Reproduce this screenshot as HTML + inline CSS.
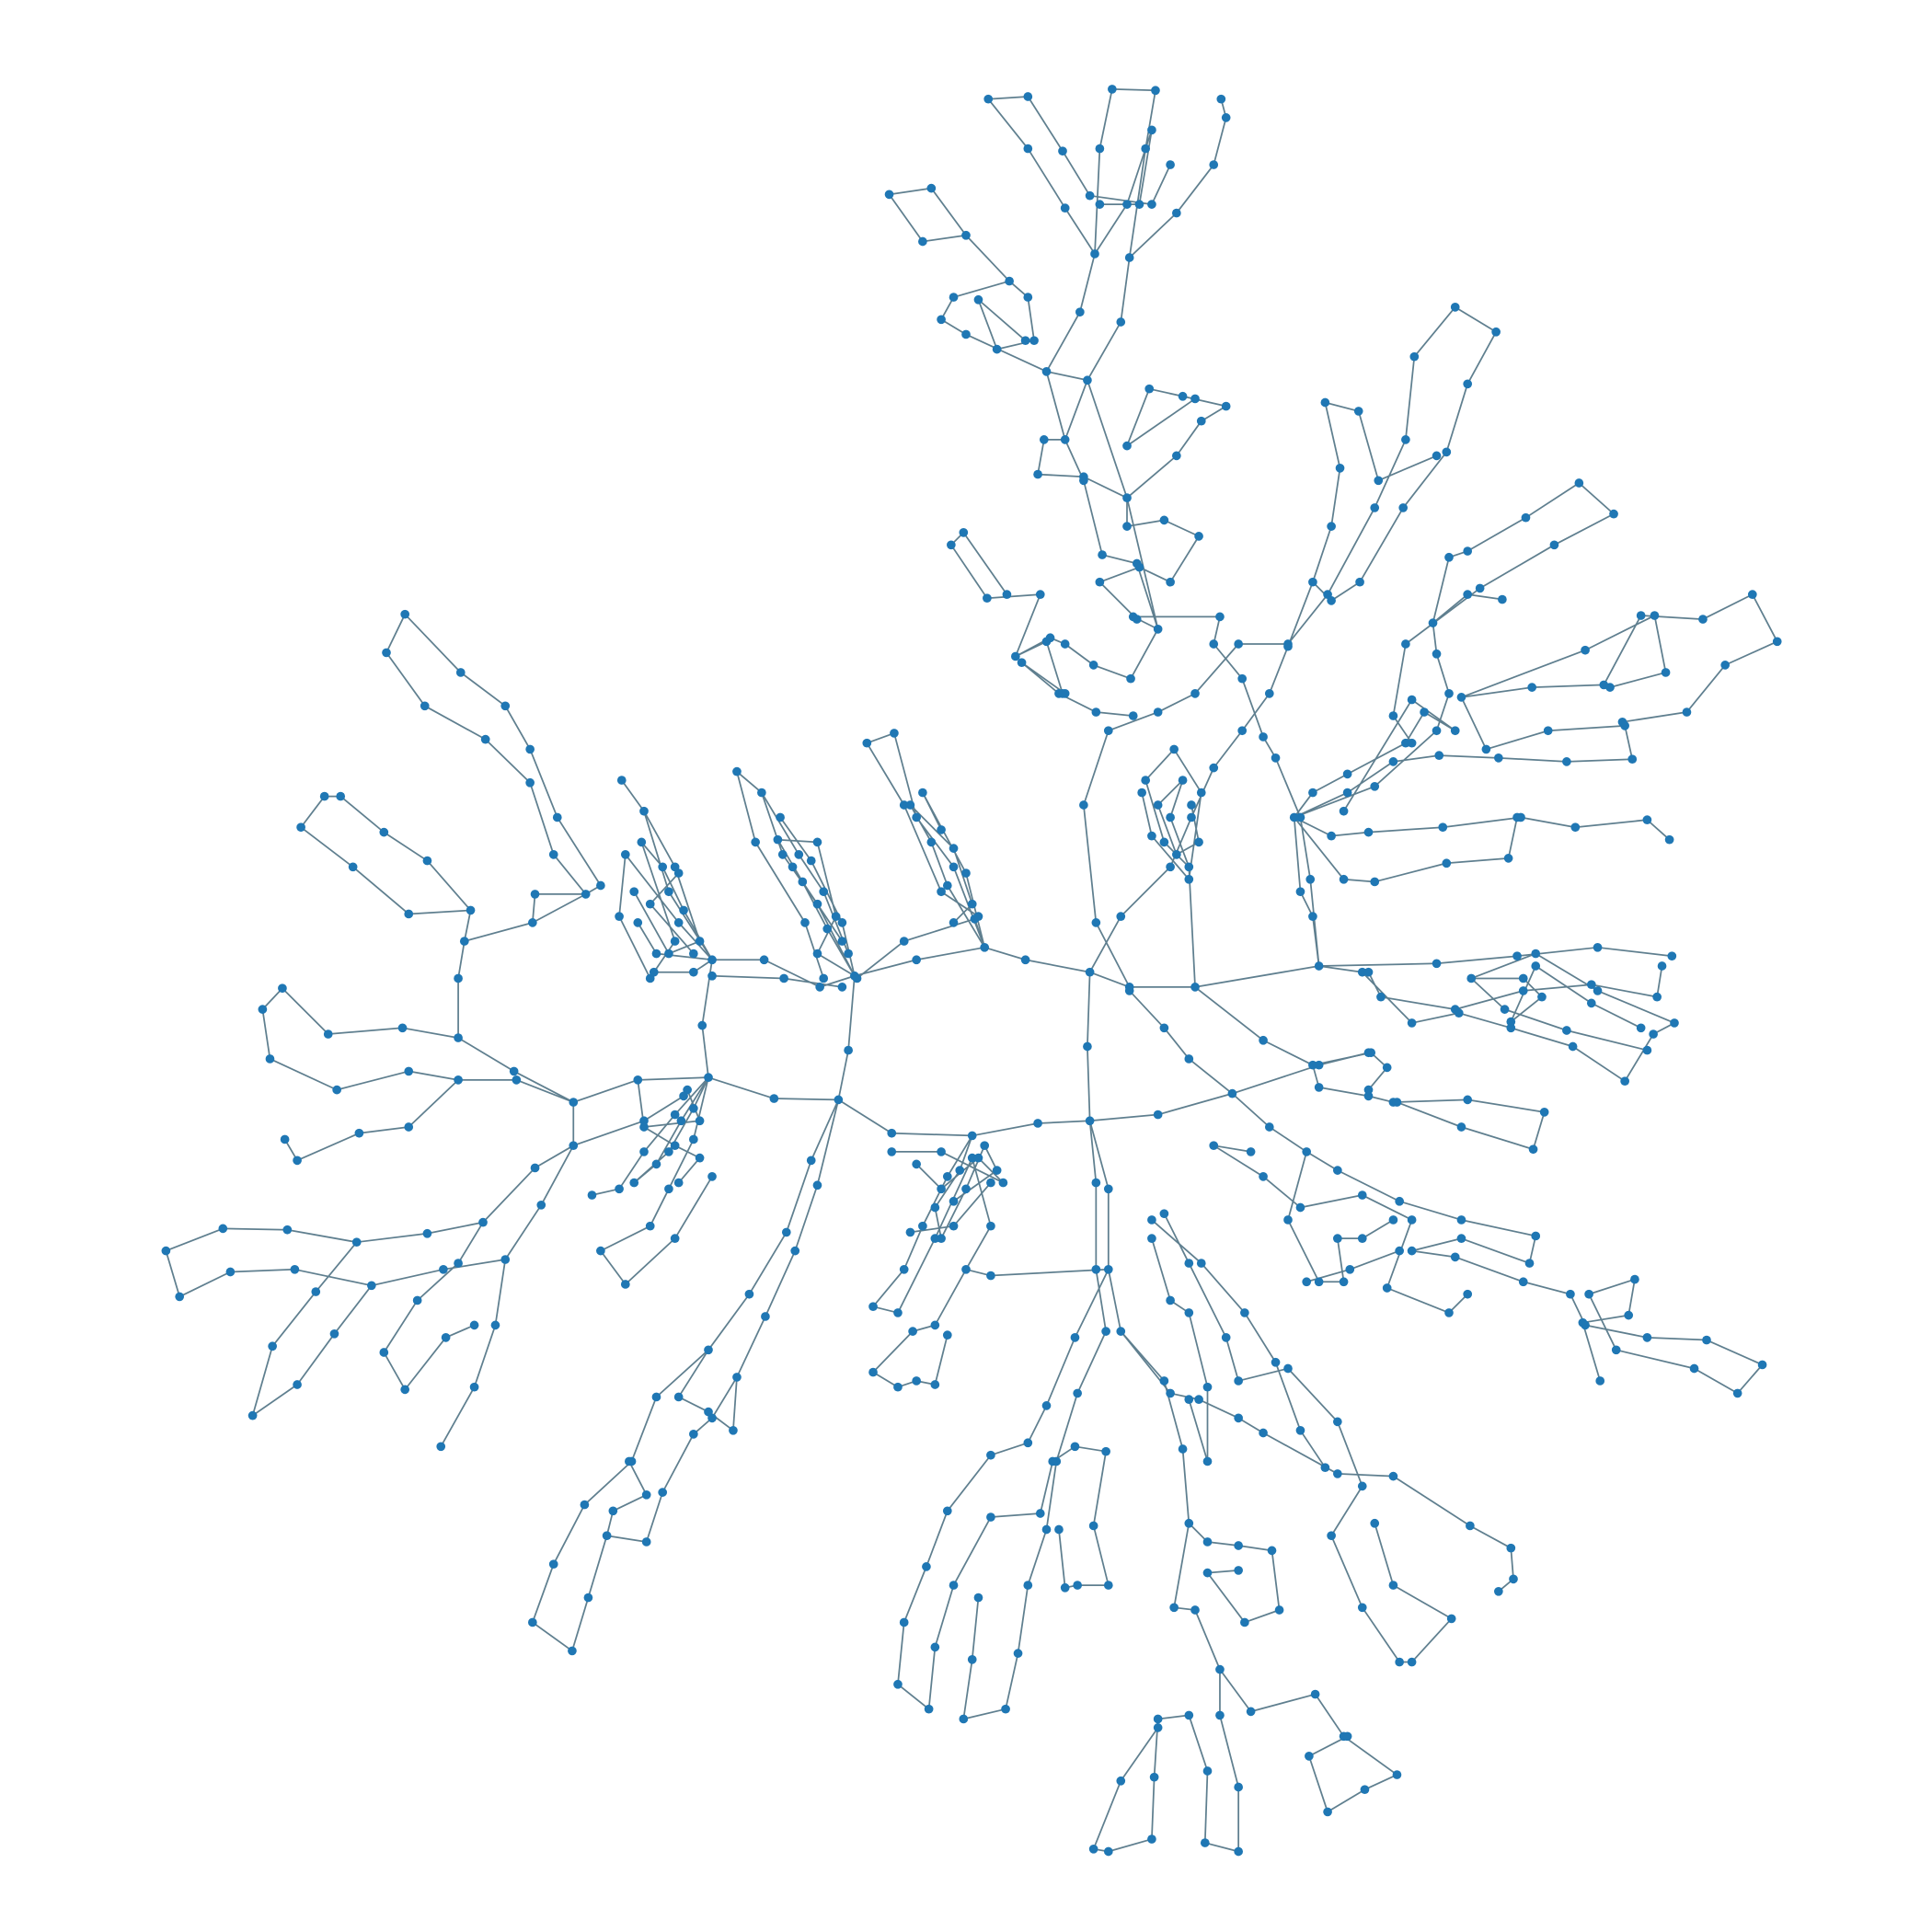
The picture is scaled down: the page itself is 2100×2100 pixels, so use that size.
<!DOCTYPE html>
<html><head><meta charset="utf-8"><title>Network graph</title>
<style>html,body{margin:0;padding:0;background:#fff;}svg{display:block;}</style></head>
<body>
<svg id="chart" width="2100" height="2100" viewBox="0 0 1560 1560" xmlns="http://www.w3.org/2000/svg">
<g id="edges"></g>
<g id="nodes"></g>
</svg>
<script>
const chains = [
[[575,775],[617,775],[662,797],[690,788],[740,775],[795,765],[828,775],[880,785],[912,797],[965,797],[1065,780],[1160,778],[1225,772],[1290,765],[1350,772]],
[[575,775],[567,828],[572,870],[625,887],[677,888],[720,915],[785,917],[838,907],[880,905],[935,900],[995,883],[1065,860],[1105,850]],
[[690,788],[685,848],[677,888]],
[[880,785],[878,845],[880,905]],
[[575,788],[633,790],[680,797]],
[[692,790],[730,760],[787,742],[795,765]],
[[572,870],[515,872],[463,890],[415,865],[370,838],[370,790],[375,760],[430,745],[473,722],[485,715]],
[[463,890],[417,872],[370,872],[330,910],[290,915],[240,937],[230,920]],
[[370,838],[325,830],[265,835],[228,798],[212,815],[218,855],[272,880],[330,865],[370,872]],
[[463,890],[463,925],[432,943],[390,987],[345,996],[288,1003],[232,993],[180,992],[134,1010],[145,1047],[186,1027],[238,1025],[300,1038],[358,1025],[408,1017],[400,1070],[383,1120],[356,1168]],
[[390,987],[370,1020],[337,1050],[310,1092],[327,1122],[360,1080],[383,1070]],
[[288,1003],[255,1043],[220,1087],[204,1143],[240,1118],[270,1077],[300,1038]],
[[463,925],[437,973],[408,1017]],
[[375,760],[380,735],[345,695],[310,672],[275,643],[262,643],[243,668],[285,700],[330,738],[380,735]],
[[485,715],[450,660],[428,605],[408,570],[372,543],[327,496],[312,527],[343,570],[392,597],[428,632],[447,690],[473,722]],
[[430,745],[432,722],[473,722]],
[[575,775],[540,720],[520,655],[502,630]],
[[575,775],[548,745],[505,690],[500,740],[525,790]],
[[575,775],[530,770],[515,745]],
[[548,705],[525,730],[560,770]],
[[575,775],[552,735],[535,700],[518,680],[545,760],[528,785],[560,785],[575,775]],
[[520,655],[545,700],[565,760],[540,770],[512,720]],
[[690,788],[660,730],[632,690],[615,640],[595,623],[610,680],[650,745],[665,790]],
[[690,788],[680,745],[655,695],[630,660]],
[[680,760],[640,700]],
[[690,788],[668,750],[648,712],[628,678],[660,680],[675,740],[660,770],[690,788]],
[[615,640],[645,690],[665,720],[685,770]],
[[795,765],[770,700],[740,660],[722,592],[700,600],[730,650],[760,720],[790,740]],
[[795,765],[780,705],[745,640],[760,670]],
[[795,765],[765,715],[752,680],[735,650],[770,685],[785,730],[770,745]],
[[912,797],[885,745],[875,650],[895,590],[935,575],[965,560],[1000,520],[1040,520],[1072,480],[1110,410],[1135,355],[1142,288],[1175,248],[1208,268],[1185,310],[1168,365],[1133,410],[1098,470],[1075,485],[1060,470],[1075,425],[1082,378],[1070,325],[1097,332],[1113,388],[1160,368]],
[[880,785],[905,740],[945,700],[962,660],[980,620],[1003,590],[1025,560],[1040,522],[1060,470]],
[[965,797],[960,700],[940,680],[925,630],[948,605],[970,640],[960,710],[930,675],[922,640]],
[[960,700],[945,660],[955,630],[935,650],[950,690],[968,680],[962,650]],
[[935,508],[915,498],[985,498],[980,520],[1003,548],[1020,595],[1030,612],[1050,660],[1058,710],[1065,780]],
[[935,508],[918,455],[890,448],[875,388],[860,355],[845,300],[878,307],[910,402],[935,508]],
[[878,307],[905,260],[912,208],[950,172],[980,133],[990,95],[986,80]],
[[845,300],[872,252],[884,205],[860,168],[830,120],[798,80],[830,78],[858,122],[880,158],[930,165],[945,133]],
[[884,205],[888,120],[898,72],[933,73],[925,120],[912,208]],
[[884,205],[910,165],[930,105],[920,165],[888,165]],
[[845,300],[780,270],[760,258],[770,240],[815,227],[780,190],[745,195],[718,157],[752,152],[780,190]],
[[815,227],[830,240],[835,275],[805,282],[790,242],[828,275]],
[[878,307],[860,355],[843,355],[838,383],[875,385],[910,402],[950,368],[970,340],[990,328],[955,320],[928,314],[910,360],[965,322]],
[[910,402],[910,425],[940,420],[968,433],[945,470],[920,458],[888,470],[918,500]],
[[935,508],[913,548],[883,537],[860,520],[848,515],[820,530],[840,480],[797,483],[768,440],[778,430],[813,480]],
[[860,560],[825,535],[855,560],[885,575],[915,578]],
[[820,530],[845,518],[858,560]],
[[1065,780],[1060,740],[1050,720],[1045,660],[1088,640],[1125,615],[1162,610],[1210,612],[1265,615],[1318,613],[1312,586],[1250,590],[1200,605],[1180,563],[1237,555],[1295,553],[1325,497],[1375,500],[1415,480],[1435,518],[1393,537],[1362,575],[1310,583]],
[[1045,660],[1075,675],[1105,672],[1165,668],[1228,660],[1272,668],[1330,662],[1348,678]],
[[1045,660],[1085,710],[1110,712],[1168,697],[1218,693],[1225,660]],
[[1045,660],[1110,635],[1160,590],[1170,560],[1160,528],[1157,503],[1185,480],[1213,484]],
[[1045,660],[1060,640],[1088,625],[1135,600],[1150,575],[1175,590],[1140,565],[1085,655]],
[[1157,503],[1170,450],[1185,445],[1232,418],[1275,390],[1303,415],[1255,440],[1195,475],[1135,520],[1125,578],[1140,600]],
[[1180,563],[1280,525],[1336,497],[1345,543],[1300,555]],
[[1065,780],[1100,785],[1140,826],[1178,818],[1220,830],[1270,845],[1312,873],[1335,835],[1352,826],[1290,800],[1240,770],[1188,790],[1215,815],[1265,832],[1330,848]],
[[1105,785],[1115,805],[1175,815],[1230,800],[1285,795],[1338,805],[1342,780]],
[[1188,790],[1230,790],[1245,805],[1220,825],[1240,780],[1285,810],[1325,830]],
[[965,797],[1020,840],[1060,860],[1065,878],[1105,885],[1125,890],[1185,888],[1247,898],[1238,928],[1180,910],[1128,890]],
[[1060,860],[1107,850],[1120,862],[1105,880]],
[[912,800],[940,830],[960,855],[995,883],[1025,910],[1055,930],[1080,945],[1130,970],[1180,985],[1240,998],[1235,1020],[1180,1000],[1140,1010]],
[[1055,930],[1040,985],[1065,1035],[1085,1035],[1080,1000],[1100,1000],[1125,985]],
[[1140,1010],[1175,1015],[1230,1035],[1268,1045],[1280,1070],[1330,1080],[1378,1082],[1423,1102],[1403,1125],[1368,1105],[1305,1090],[1283,1045],[1320,1033],[1315,1062],[1278,1068],[1292,1115]],
[[1130,1010],[1090,1025],[1055,1035]],
[[1010,930],[980,925],[1020,950],[1050,975],[1100,965],[1140,985],[1120,1040],[1170,1060],[1185,1045]],
[[880,905],[885,955],[885,1025],[893,1075],[870,1125],[853,1180],[845,1235],[830,1280],[822,1335],[812,1380],[778,1388],[785,1340],[790,1290]],
[[880,905],[895,960],[895,1025],[905,1075],[945,1125],[968,1130],[1000,1145],[1020,1157],[1080,1190],[1125,1192],[1187,1232],[1220,1250],[1222,1275],[1210,1285]],
[[895,1025],[868,1080],[845,1135],[830,1165],[800,1175],[765,1220],[748,1265],[730,1310],[725,1360],[750,1380],[755,1330],[770,1280],[800,1225],[840,1222],[850,1180],[868,1168],[893,1172],[883,1232],[895,1280],[870,1280],[860,1282],[855,1235]],
[[895,1025],[800,1030],[780,1025],[755,1070],[737,1075],[705,1108],[725,1120],[740,1115],[755,1118],[765,1078]],
[[905,1075],[940,1115],[955,1170],[960,1230],[948,1298],[965,1300],[985,1348],[985,1385],[1000,1443],[1000,1495],[973,1488],[975,1430],[960,1385],[935,1388],[932,1435],[930,1485],[895,1495],[883,1493],[905,1438],[935,1395]],
[[985,1348],[1010,1382],[1062,1368],[1085,1402],[1128,1433],[1102,1445],[1072,1463],[1057,1418],[1088,1402]],
[[960,1230],[975,1245],[1000,1248],[1027,1252],[1033,1300],[1005,1310],[975,1270],[1000,1268]],
[[940,980],[960,1020],[990,1080],[1000,1115],[1040,1105],[1080,1148],[1100,1200],[1075,1240],[1100,1298],[1130,1342],[1140,1342],[1172,1307],[1125,1280],[1110,1230]],
[[930,1000],[945,1050],[960,1060],[975,1120],[975,1180],[960,1130]],
[[930,985],[970,1020],[1005,1060],[1030,1100],[1050,1155],[1070,1185]],
[[677,888],[655,937],[635,995],[605,1045],[572,1090],[530,1128],[510,1180],[472,1215],[447,1263],[430,1310],[462,1333],[475,1290],[490,1240],[522,1245],[535,1205],[560,1158],[575,1145],[595,1112],[618,1063],[642,1010],[660,957],[677,888]],
[[572,1090],[548,1128],[572,1140],[592,1155],[595,1112]],
[[490,1240],[495,1220],[522,1207],[508,1180]],
[[572,870],[545,900],[520,930],[500,960],[478,965]],
[[572,870],[560,920],[540,960],[525,990],[485,1010],[505,1037],[545,1000],[575,950]],
[[515,872],[520,910],[565,905],[555,880]],
[[463,925],[520,905],[552,885]],
[[572,870],[550,905],[530,940],[512,955],[540,930],[560,895],[572,870]],
[[520,910],[545,925],[565,935],[548,955]],
[[785,917],[765,950],[745,990],[730,1025],[705,1055],[725,1060],[755,1000],[785,935],[800,990],[780,1025]],
[[720,930],[760,930],[810,955],[790,935],[760,960],[740,940]],
[[800,955],[770,990],[735,995]],
[[785,917],[775,945],[755,975],[760,1000],[780,960],[795,925],[805,945],[770,970]]
];

const NS = 'http://www.w3.org/2000/svg';
const edgeG = document.getElementById('edges');
const nodeG = document.getElementById('nodes');
const seen = {};
chains.forEach(function(ch){
  for (let i = 0; i < ch.length - 1; i++) {
    const l = document.createElementNS(NS, 'line');
    l.setAttribute('x1', ch[i][0]); l.setAttribute('y1', ch[i][1]);
    l.setAttribute('x2', ch[i+1][0]); l.setAttribute('y2', ch[i+1][1]);
    l.setAttribute('stroke', '#5f7f8f');
    l.setAttribute('stroke-width', '1.3');
    
    
    edgeG.appendChild(l);
  }
  ch.forEach(function(p){
    const k = p[0] + ',' + p[1];
    if (seen[k]) return;
    seen[k] = 1;
    const c = document.createElementNS(NS, 'circle');
    c.setAttribute('cx', p[0]); c.setAttribute('cy', p[1]);
    c.setAttribute('r', '3.6');
    c.setAttribute('fill', '#1f77b4');
    
    
    nodeG.appendChild(c);
  });
});
</script>
</body></html>
